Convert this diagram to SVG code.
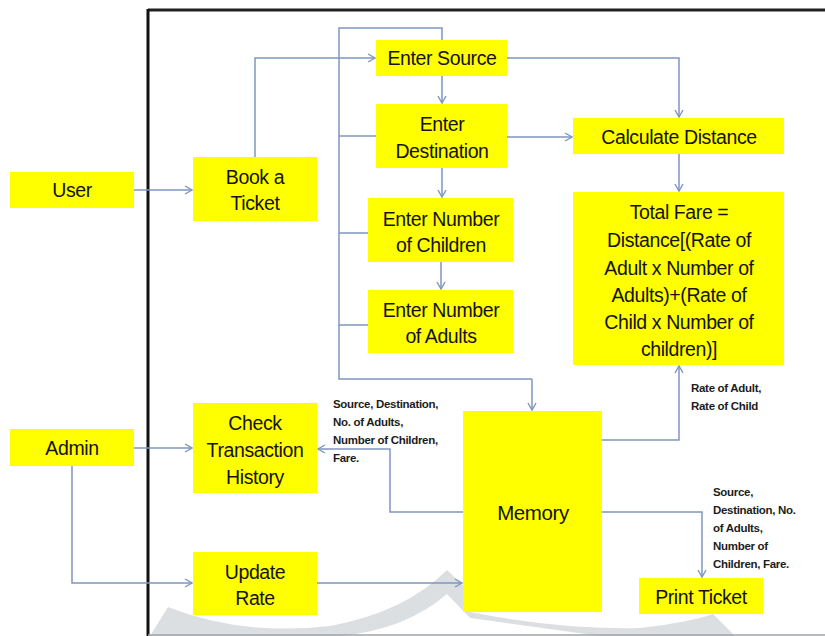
<svg xmlns="http://www.w3.org/2000/svg" width="825" height="636" viewBox="0 0 825 636">
<defs>
<marker id="arr" markerWidth="10" markerHeight="10" refX="8" refY="5" orient="auto" markerUnits="userSpaceOnUse">
<path d="M1,1 L8,5 L1,9" fill="none" stroke="#7f95c0" stroke-width="1.4"/>
</marker>
<style>
.box{fill:#ffff00;}
.t{font-family:"Liberation Sans",Arial,sans-serif;font-size:19.5px;fill:#141408;text-anchor:middle;letter-spacing:-0.4px;}
.s{font-family:"Liberation Sans",Arial,sans-serif;font-size:11.5px;font-weight:bold;fill:#1c1c1c;letter-spacing:-0.3px;}
.c{fill:none;stroke:#7f95c0;stroke-width:1.5;}
.ca{fill:none;stroke:#7f95c0;stroke-width:1.5;marker-end:url(#arr);}
</style>
</defs>
<rect width="825" height="636" fill="#ffffff"/>
<!-- watermark swoosh -->
<path d="M150,636 L168,607 Q240,636 330,626 Q405,612 447,570 L470,592 L470,612 Q560,630 640,628 Q690,622 713,614 L735,636 L600,636 L470,618 L447,594 Q405,630 340,636 Z" fill="#dcdfe2"/>
<!-- frame -->
<g id="frame">
<line x1="148" y1="10" x2="825" y2="10" stroke="#222" stroke-width="3"/>
<line x1="148" y1="9" x2="148" y2="636" stroke="#111" stroke-width="3"/>
<line x1="148" y1="635" x2="825" y2="635" stroke="#a0a4a8" stroke-width="1.5"/>
</g>
<g id="connectors">
<path class="ca" d="M134,190 L192,190"/>
<path class="ca" d="M255,157 L255,58 L375,58"/>
<path class="c" d="M442,40 L442,28 L339,28 L339,379 L532,379"/>
<path class="ca" d="M532,379 L532,410"/>
<path class="c" d="M339,136 L376,136"/>
<path class="c" d="M339,233 L368,233"/>
<path class="c" d="M339,325 L368,325"/>
<path class="ca" d="M442,76 L442,103"/>
<path class="ca" d="M442,168 L442,197"/>
<path class="ca" d="M441,262 L441,289"/>
<path class="ca" d="M507,58 L679,58 L679,117"/>
<path class="ca" d="M507,137 L572,137"/>
<path class="ca" d="M679,154 L679,191"/>
<path class="ca" d="M602,440 L679,440 L679,366"/>
<path class="ca" d="M602,512 L702,512 L702,577"/>
<path class="ca" d="M463,512 L390,512 L390,449 L318,449"/>
<path class="ca" d="M134,448 L192,448"/>
<path class="ca" d="M72,466 L72,583 L192,583"/>
<path class="ca" d="M317,583 L462,583"/>
</g>
<g id="user"><rect class="box" x="10" y="172" width="124" height="36"/><text class="t" x="72" y="197">User</text></g>
<g id="admin"><rect class="box" x="10" y="429" width="124" height="37"/><text class="t" x="72" y="455">Admin</text></g>
<g id="book"><rect class="box" x="193" y="157" width="124" height="64"/><text class="t" x="255" y="184">Book a</text><text class="t" x="255" y="210">Ticket</text></g>
<g id="source"><rect class="box" x="376" y="40" width="131" height="36"/><text class="t" x="442" y="65">Enter Source</text></g>
<g id="dest"><rect class="box" x="376" y="104" width="131" height="64"/><text class="t" x="442" y="131">Enter</text><text class="t" x="442" y="158">Destination</text></g>
<g id="children"><rect class="box" x="368" y="198" width="145" height="64"/><text class="t" x="441" y="226">Enter Number</text><text class="t" x="441" y="252">of Children</text></g>
<g id="adults"><rect class="box" x="368" y="290" width="145" height="63"/><text class="t" x="441" y="317">Enter Number</text><text class="t" x="441" y="343">of Adults</text></g>
<g id="calc"><rect class="box" x="573" y="118" width="211" height="36"/><text class="t" x="679" y="144">Calculate Distance</text></g>
<g id="fare"><rect class="box" x="573" y="192" width="211" height="173"/>
<text class="t" x="679" y="219">Total Fare =</text>
<text class="t" x="679" y="247">Distance[(Rate of</text>
<text class="t" x="679" y="275">Adult x Number of</text>
<text class="t" x="679" y="302">Adults)+(Rate of</text>
<text class="t" x="679" y="329">Child x Number of</text>
<text class="t" x="679" y="356">children)]</text>
</g>
<g id="memory"><rect class="box" x="463" y="411" width="139" height="201"/><text class="t" x="533" y="520" style="font-size:20.5px">Memory</text></g>
<g id="check"><rect class="box" x="193" y="403" width="124" height="90"/><text class="t" x="255" y="430">Check</text><text class="t" x="255" y="457">Transaction</text><text class="t" x="255" y="484">History</text></g>
<g id="update"><rect class="box" x="193" y="552" width="124" height="63"/><text class="t" x="255" y="579">Update</text><text class="t" x="255" y="605">Rate</text></g>
<g id="print"><rect class="box" x="639" y="578" width="124" height="36"/><text class="t" x="701" y="604">Print Ticket</text></g>
<g id="labels">
<text class="s" x="333" y="408">Source, Destination,</text>
<text class="s" x="333" y="426">No. of Adults,</text>
<text class="s" x="333" y="444">Number of Children,</text>
<text class="s" x="333" y="462">Fare.</text>
<text class="s" x="691" y="392">Rate of Adult,</text>
<text class="s" x="691" y="410">Rate of Child</text>
<text class="s" x="713" y="496">Source,</text>
<text class="s" x="713" y="514">Destination, No.</text>
<text class="s" x="713" y="532">of Adults,</text>
<text class="s" x="713" y="550">Number of</text>
<text class="s" x="713" y="568">Children, Fare.</text>
</g>
</svg>
